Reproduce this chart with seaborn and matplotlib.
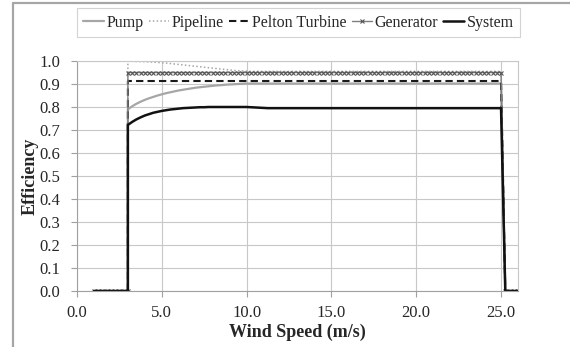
import numpy as np
import pandas as pd
import matplotlib
matplotlib.use("Agg")
import matplotlib.pyplot as plt
from matplotlib.lines import Line2D
import seaborn as sns

# ---------------- data ----------------
ws_before = np.round(np.arange(1.0, 3.01, 0.25), 2)     # 1.00 .. 3.00 (9 pts)
ws_on = np.round(np.arange(3.0, 25.01, 0.25), 2)        # 3.00 .. 25.00 (89 pts)
ws_after = np.round(np.arange(25.25, 26.01, 0.25), 2)   # 25.25 .. 26.00 (4 pts)
wind_speed = np.concatenate([ws_before, ws_on, ws_after])

zeros_before = [0.0] * 9
zeros_after = [0.0] * 4

pump_on = [0.790, 0.803, 0.814, 0.823, 0.831, 0.838, 0.844, 0.850, 0.855, 0.860,
           0.864, 0.868, 0.872, 0.875, 0.878, 0.881, 0.884, 0.886, 0.888, 0.890,
           0.892, 0.894, 0.895, 0.897, 0.898, 0.899, 0.900, 0.901, 0.902] + [0.902] * 60
pipeline_on = [0.999, 0.999, 0.998, 0.998, 0.997, 0.996, 0.995, 0.994, 0.992, 0.991,
               0.989, 0.987, 0.985, 0.983, 0.981, 0.979, 0.977, 0.975, 0.973, 0.971,
               0.969, 0.967, 0.965, 0.963, 0.961, 0.959, 0.958, 0.957, 0.956] + [0.955] * 60
pelton_on = [0.913] * 89
generator_on = [0.950] * 89
system_on = [0.722, 0.735, 0.746, 0.755, 0.763, 0.769, 0.775, 0.779, 0.783, 0.786,
             0.789, 0.791, 0.793, 0.795, 0.796, 0.797, 0.798, 0.799, 0.799, 0.800,
             0.800, 0.800, 0.800, 0.800, 0.800, 0.800, 0.800, 0.800, 0.800, 0.799,
             0.798, 0.797, 0.796, 0.795, 0.795] + [0.795] * 54

pump = zeros_before + pump_on + zeros_after
pipeline = zeros_before + pipeline_on + zeros_after
pelton = zeros_before + pelton_on + zeros_after
generator = zeros_before + generator_on + zeros_after
system = zeros_before + system_on + zeros_after

series_names = ["Pump", "Pipeline", "Pelton Turbine", "Generator", "System"]
x_ticks = [0.0, 5.0, 10.0, 15.0, 20.0, 25.0]
y_ticks = [0.0, 0.1, 0.2, 0.3, 0.4, 0.5, 0.6, 0.7, 0.8, 0.9, 1.0]

# ---------------- styling ----------------
sns.set_theme(style="whitegrid")
plt.rcParams["font.family"] = ["Liberation Serif", "DejaVu Serif"]

W, H = 570, 347
fig = plt.figure(figsize=(W / 100, H / 100), dpi=100)
left, right, top, bottom = 77, 518, 61, 291
ax = fig.add_axes([left / W, 1 - bottom / H, (right - left) / W, (bottom - top) / H])

grid_c = "#c8c8c8"
styles = {
    "Pump": dict(color="#a6a6a6", lw=1.6, ls="-"),
    "Pipeline": dict(color="#a6a6a6", lw=1.1, ls=(0, (1, 1.5))),
    "Pelton Turbine": dict(color="#1a1a1a", lw=1.5, ls=(0, (3.5, 2))),
    "Generator": dict(color="#7f7f7f", lw=1.0, ls="-", marker="x", ms=3.2,
                      mec="#555555", mew=0.8),
    "System": dict(color="#111111", lw=1.8, ls="-"),
}
values = {"Pump": pump, "Pipeline": pipeline, "Pelton Turbine": pelton,
          "Generator": generator, "System": system}

for name in series_names:
    df = pd.DataFrame({"Wind Speed": wind_speed, "Efficiency": values[name]})
    st = dict(styles[name])
    sns.lineplot(data=df, x="Wind Speed", y="Efficiency", ax=ax, estimator=None,
                 sort=False, label=name, color=st.pop("color"),
                 linewidth=st.pop("lw"), linestyle=st.pop("ls"), **st)

ax.set_xlim(0, 26)
ax.set_ylim(0, 1.0)
ax.set_xticks(x_ticks)
ax.set_xticklabels([f"{v:.1f}" for v in x_ticks])
ax.set_yticks(y_ticks)
ax.set_yticklabels([f"{v:.1f}" for v in y_ticks])
ax.grid(True, color=grid_c, linewidth=0.8)
for s in ax.spines.values():
    s.set_visible(True)
    s.set_color(grid_c)
    s.set_linewidth(0.8)
ax.spines["left"].set_color("#a0a0a0")
ax.spines["bottom"].set_color("#a0a0a0")
ax.tick_params(axis="both", which="major", length=4, width=0.8, color="#a0a0a0",
               labelsize=12, direction="out", left=True, bottom=True)
ax.tick_params(axis="y", pad=8)
ax.tick_params(axis="x", pad=6)
ax.set_xlabel("Wind Speed (m/s)", fontsize=13, fontweight="bold", labelpad=2)
ax.set_ylabel("Efficiency", fontsize=13, fontweight="bold")
ax.yaxis.set_label_coords((39 - left) / (right - left), 0.5)
ax.set_facecolor("white")

ax.get_legend().remove()
handles, labels = ax.get_legend_handles_labels()
leg = fig.legend(handles, labels, loc="lower left",
                 bbox_to_anchor=(77 / W, 1 - 37 / H, 443 / W, 25 / H), mode="expand",
                 ncol=5, fontsize=11.5, frameon=True, fancybox=False,
                 handlelength=1.3, handletextpad=0.15, columnspacing=0.6,
                 borderpad=0.4, borderaxespad=0, edgecolor="#c8c8c8")
leg.get_frame().set_linewidth(0.8)

# outer chart frame (top & left visible in the reference)
fig.add_artist(Line2D([13 / W, 13 / W], [0.0, 1 - 3 / H], transform=fig.transFigure,
                      color="#a6a6a6", lw=1.6))
fig.add_artist(Line2D([13 / W, 1.0], [1 - 3 / H, 1 - 3 / H], transform=fig.transFigure,
                      color="#a6a6a6", lw=1.6))

fig.savefig("out.png", dpi=100, facecolor="white")
